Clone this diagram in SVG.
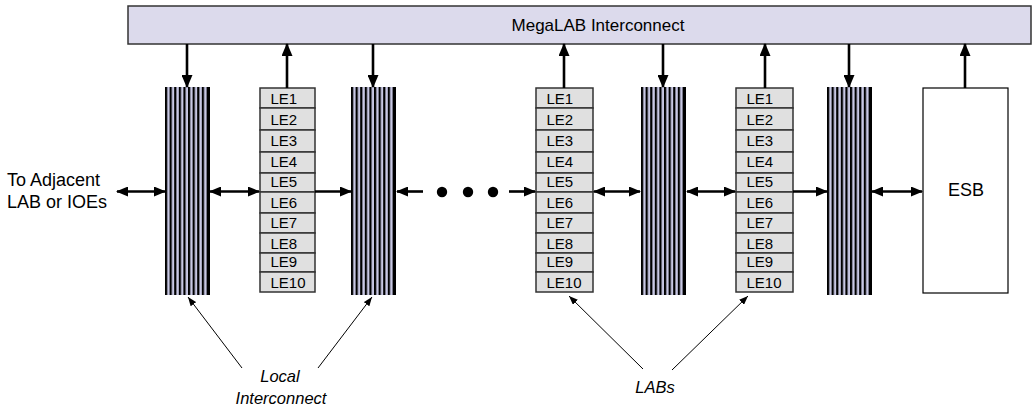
<svg xmlns="http://www.w3.org/2000/svg" xmlns:xlink="http://www.w3.org/1999/xlink" width="1034" height="409" viewBox="0 0 1034 409">
<style>
text{font-family:"Liberation Sans",Arial,sans-serif;fill:#000}
.lbl{font-size:17px}
.big{font-size:18px}
.le{font-size:15px}
.it{font-size:16.5px;font-style:italic;text-anchor:middle}
.cell{fill:#e0e0e0;stroke:#333;stroke-width:1.5}
.thick{stroke:#000;stroke-width:2.6;fill:none}
.thin{stroke:#000;stroke-width:1;fill:none}
</style>
<defs>
<pattern id="stripe" patternUnits="userSpaceOnUse" width="4.6" height="10">
<rect x="0" y="0" width="4.6" height="10" fill="#c8c8e4"/>
<rect x="0" y="0" width="2.2" height="10" fill="#000"/>
</pattern>
<g id="col">
<rect x="0" y="0" width="45" height="208" fill="#c8c8e4"/>
<rect x="0" y="0" width="40" height="208" fill="url(#stripe)"/>
<rect x="41.6" y="0" width="3.4" height="208" fill="#000"/>
</g>
<marker id="ah" viewBox="0 0 12 10" refX="11" refY="5" markerWidth="12" markerHeight="10" markerUnits="userSpaceOnUse" orient="auto-start-reverse"><path d="M0,0 L12,5 L0,10 z" fill="#000"/></marker>
<marker id="av" viewBox="0 0 13 11" refX="12" refY="5.5" markerWidth="13" markerHeight="11" markerUnits="userSpaceOnUse" orient="auto-start-reverse"><path d="M0,0 L13,5.5 L0,11 z" fill="#000"/></marker>
<marker id="as" viewBox="0 0 9 7" refX="9" refY="3.5" markerWidth="9" markerHeight="7" markerUnits="userSpaceOnUse" orient="auto"><path d="M0,0 L9,3.5 L0,7 z" fill="#000"/></marker>
</defs>

<g id="megalab">
<rect x="128" y="6" width="903" height="38" fill="#dcdaec" stroke="#333" stroke-width="1.5"/>
<text class="lbl" x="598" y="31" text-anchor="middle">MegaLAB Interconnect</text>
</g>

<g id="adjacent-label">
<text class="big" x="7" y="186">To Adjacent</text>
<text class="big" x="7" y="208">LAB or IOEs</text>
</g>

<g id="local1"><use xlink:href="#col" x="165" y="87"/></g>
<g id="local2"><use xlink:href="#col" x="351" y="87"/></g>
<g id="local3"><use xlink:href="#col" x="641" y="87"/></g>
<g id="local4"><use xlink:href="#col" x="827" y="87"/></g>

<g id="lab1">
<rect class="cell" x="260" y="88" width="55" height="20"/><text class="le" x="270.5" y="104">LE1</text>
<rect class="cell" x="260" y="108" width="55" height="22"/><text class="le" x="270.5" y="125">LE2</text>
<rect class="cell" x="260" y="130" width="55" height="22"/><text class="le" x="270.5" y="146">LE3</text>
<rect class="cell" x="260" y="152" width="55" height="21"/><text class="le" x="270.5" y="167">LE4</text>
<rect class="cell" x="260" y="173" width="55" height="19"/><text class="le" x="270.5" y="187">LE5</text>
<rect class="cell" x="260" y="192" width="55" height="21"/><text class="le" x="270.5" y="208">LE6</text>
<rect class="cell" x="260" y="213" width="55" height="20"/><text class="le" x="270.5" y="228">LE7</text>
<rect class="cell" x="260" y="233" width="55" height="20"/><text class="le" x="270.5" y="249">LE8</text>
<rect class="cell" x="260" y="253" width="55" height="19"/><text class="le" x="270.5" y="267">LE9</text>
<rect class="cell" x="260" y="272" width="55" height="20"/><text class="le" x="270.5" y="288">LE10</text>
</g>

<g id="lab2">
<rect class="cell" x="536" y="88" width="57" height="20"/><text class="le" x="546.5" y="104">LE1</text>
<rect class="cell" x="536" y="108" width="57" height="22"/><text class="le" x="546.5" y="125">LE2</text>
<rect class="cell" x="536" y="130" width="57" height="22"/><text class="le" x="546.5" y="146">LE3</text>
<rect class="cell" x="536" y="152" width="57" height="21"/><text class="le" x="546.5" y="167">LE4</text>
<rect class="cell" x="536" y="173" width="57" height="19"/><text class="le" x="546.5" y="187">LE5</text>
<rect class="cell" x="536" y="192" width="57" height="21"/><text class="le" x="546.5" y="208">LE6</text>
<rect class="cell" x="536" y="213" width="57" height="20"/><text class="le" x="546.5" y="228">LE7</text>
<rect class="cell" x="536" y="233" width="57" height="20"/><text class="le" x="546.5" y="249">LE8</text>
<rect class="cell" x="536" y="253" width="57" height="19"/><text class="le" x="546.5" y="267">LE9</text>
<rect class="cell" x="536" y="272" width="57" height="20"/><text class="le" x="546.5" y="288">LE10</text>
</g>

<g id="lab3">
<rect class="cell" x="736" y="88" width="57" height="20"/><text class="le" x="746.5" y="104">LE1</text>
<rect class="cell" x="736" y="108" width="57" height="22"/><text class="le" x="746.5" y="125">LE2</text>
<rect class="cell" x="736" y="130" width="57" height="22"/><text class="le" x="746.5" y="146">LE3</text>
<rect class="cell" x="736" y="152" width="57" height="21"/><text class="le" x="746.5" y="167">LE4</text>
<rect class="cell" x="736" y="173" width="57" height="19"/><text class="le" x="746.5" y="187">LE5</text>
<rect class="cell" x="736" y="192" width="57" height="21"/><text class="le" x="746.5" y="208">LE6</text>
<rect class="cell" x="736" y="213" width="57" height="20"/><text class="le" x="746.5" y="228">LE7</text>
<rect class="cell" x="736" y="233" width="57" height="20"/><text class="le" x="746.5" y="249">LE8</text>
<rect class="cell" x="736" y="253" width="57" height="19"/><text class="le" x="746.5" y="267">LE9</text>
<rect class="cell" x="736" y="272" width="57" height="20"/><text class="le" x="746.5" y="288">LE10</text>
</g>

<g id="esb">
<rect x="923" y="88" width="85" height="205" fill="#fff" stroke="#000" stroke-width="1.2"/>
<text class="big" x="966" y="196" text-anchor="middle">ESB</text>
</g>

<g id="connectors">
<line class="thick" x1="187" y1="44" x2="187" y2="87" marker-end="url(#av)"/>
<line class="thick" x1="287" y1="88" x2="287" y2="44" marker-end="url(#av)"/>
<line class="thick" x1="373" y1="44" x2="373" y2="87" marker-end="url(#av)"/>
<line class="thick" x1="564" y1="88" x2="564" y2="44" marker-end="url(#av)"/>
<line class="thick" x1="663" y1="44" x2="663" y2="87" marker-end="url(#av)"/>
<line class="thick" x1="765" y1="88" x2="765" y2="44" marker-end="url(#av)"/>
<line class="thick" x1="849" y1="44" x2="849" y2="87" marker-end="url(#av)"/>
<line class="thick" x1="965" y1="88" x2="965" y2="44" marker-end="url(#av)"/>

<line class="thick" x1="117" y1="191.5" x2="165" y2="191.5" marker-start="url(#ah)" marker-end="url(#ah)"/>
<line class="thick" x1="210" y1="191.5" x2="259" y2="191.5" marker-start="url(#ah)" marker-end="url(#ah)"/>
<line class="thick" x1="315" y1="191.5" x2="351" y2="191.5" marker-end="url(#ah)"/>
<line class="thick" x1="423" y1="191.5" x2="397" y2="191.5" marker-end="url(#ah)"/>
<circle cx="442" cy="192" r="5.2" fill="#000"/>
<circle cx="468" cy="192" r="5.2" fill="#000"/>
<circle cx="493" cy="192" r="5.2" fill="#000"/>
<line class="thick" x1="509" y1="191.5" x2="535" y2="191.5" marker-end="url(#ah)"/>
<line class="thick" x1="594" y1="191.5" x2="640" y2="191.5" marker-start="url(#ah)" marker-end="url(#ah)"/>
<line class="thick" x1="687" y1="191.5" x2="735" y2="191.5" marker-start="url(#ah)" marker-end="url(#ah)"/>
<line class="thick" x1="793" y1="191.5" x2="827" y2="191.5" marker-end="url(#ah)"/>
<line class="thick" x1="872" y1="191.5" x2="922" y2="191.5" marker-start="url(#ah)" marker-end="url(#ah)"/>

<line class="thin" x1="242" y1="368" x2="188" y2="297" marker-end="url(#as)"/>
<line class="thin" x1="318" y1="368" x2="372" y2="297" marker-end="url(#as)"/>
<line class="thin" x1="643" y1="369" x2="569" y2="296" marker-end="url(#as)"/>
<line class="thin" x1="672" y1="370" x2="748" y2="296" marker-end="url(#as)"/>
</g>

<g id="local-label">
<text class="it" x="280" y="382">Local</text>
<text class="it" x="281" y="404">Interconnect</text>
</g>
<g id="labs-label">
<text class="it" x="655" y="393">LABs</text>
</g>
</svg>
